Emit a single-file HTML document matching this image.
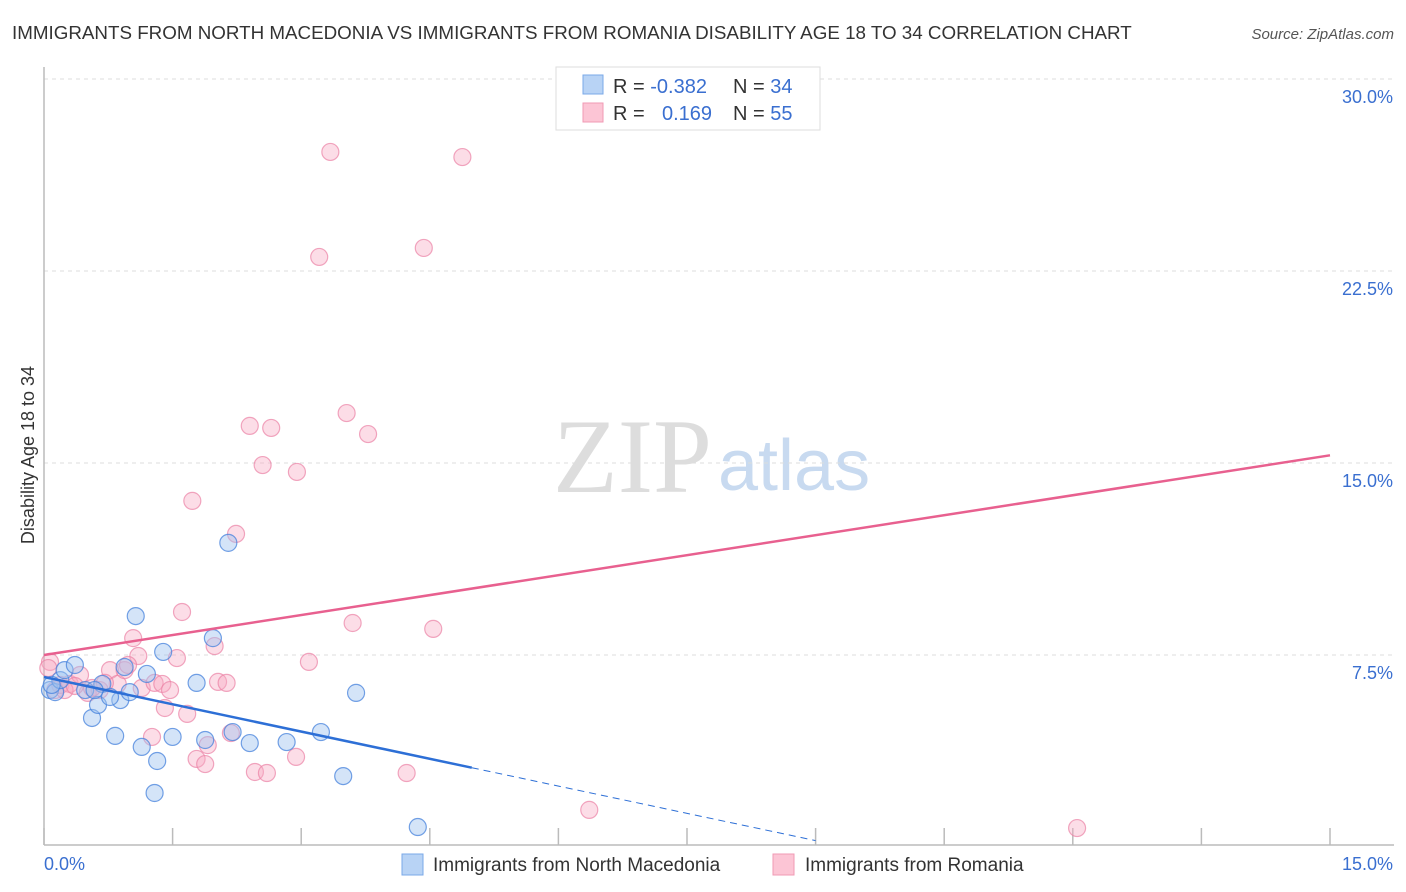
<!DOCTYPE html>
<html><head><meta charset="utf-8"><style>
body{margin:0;background:#fff;font-family:"Liberation Sans",sans-serif;}
svg{display:block}
</style></head><body>
<svg id="chart" width="1406" height="892" xmlns="http://www.w3.org/2000/svg">
<text x="12" y="39" font-size="18.8" fill="#333">IMMIGRANTS FROM NORTH MACEDONIA VS IMMIGRANTS FROM ROMANIA DISABILITY AGE 18 TO 34 CORRELATION CHART</text>
<text x="1394" y="39" font-size="15" fill="#555" font-style="italic" text-anchor="end">Source: ZipAtlas.com</text>
<text x="553" y="492" font-size="106" font-family="Liberation Serif,serif" fill="#ddd">ZIP</text>
<text x="718" y="490" font-size="72" fill="#c8daf0">atlas</text>
<text transform="translate(34,455) rotate(-90)" font-size="18" fill="#333" text-anchor="middle">Disability Age 18 to 34</text>
<g id="grid"></g><g id="marks"></g>
<g>
<rect x="556" y="67" width="264" height="63" fill="#fff" stroke="#ddd"/>
<rect x="583" y="75" width="20" height="19" fill="#b8d3f5" stroke="#7aa8e8"/>
<rect x="583" y="103" width="20" height="19" fill="#fcc5d5" stroke="#f09ab4"/>
<text x="613" y="93" font-size="20" fill="#333">R = <tspan fill="#3a6fd0">-0.382</tspan></text>
<text x="733" y="93" font-size="20" fill="#333">N = <tspan fill="#3a6fd0">34</tspan></text>
<text x="613" y="120" font-size="20" fill="#333">R = <tspan fill="#3a6fd0" x="662">0.169</tspan></text>
<text x="733" y="120" font-size="20" fill="#333">N = <tspan fill="#3a6fd0">55</tspan></text>
</g>
<g>
<rect x="402" y="854" width="21" height="21" fill="#b8d3f5" stroke="#7aa8e8"/>
<text x="433" y="871" font-size="19" fill="#333">Immigrants from North Macedonia</text>
<rect x="773" y="854" width="21" height="21" fill="#fcc5d5" stroke="#f09ab4"/>
<text x="805" y="871" font-size="19" fill="#333">Immigrants from Romania</text>
</g>
</svg>
<script>
const yTicks=[7.5,15,22.5,30];
const yTickLabels=["7.5%","15.0%","22.5%","30.0%"];
const xTicks=[0,1.5,3,4.5,6,7.5,9,10.5,12,13.5,15];
const blueX=[0.07,0.13,0.19,0.24,0.36,0.48,0.56,0.63,0.68,0.83,0.89,0.94,1.00,1.07,1.14,1.20,1.32,1.29,1.39,1.50,1.78,1.88,1.97,2.15,2.20,2.40,2.83,3.23,3.49,3.64,4.36,0.59,0.77,0.09];
const blueY=[6.13,6.05,6.52,6.91,7.11,6.13,5.04,5.55,6.37,4.34,5.74,7.03,6.05,9.02,3.91,6.76,3.36,2.11,7.62,4.30,6.41,4.18,8.16,11.88,4.49,4.06,4.10,4.49,2.77,6.02,0.78,6.13,5.86,6.33];
const pinkX=[0.07,0.13,0.19,0.30,0.42,0.51,0.65,0.77,0.86,0.94,1.04,1.10,1.14,1.26,1.29,1.38,1.41,1.47,1.55,1.61,1.67,1.73,1.78,1.88,1.91,1.99,2.03,2.13,2.18,2.24,2.40,2.46,2.55,2.60,2.65,2.94,2.95,3.09,3.21,3.34,3.60,3.53,3.78,4.23,4.43,4.54,4.88,6.36,12.05,0.05,0.24,0.36,0.56,0.98,0.71];
const pinkY=[7.23,6.13,6.33,6.37,6.72,6.02,6.13,6.91,6.37,6.91,8.16,7.46,6.21,4.30,6.41,6.37,5.43,6.13,7.38,9.18,5.20,13.52,3.44,3.24,3.98,7.85,6.45,6.41,4.45,12.23,16.45,2.93,14.92,2.89,16.37,3.52,14.65,7.23,23.05,27.15,8.75,16.95,16.13,2.89,23.40,8.52,26.95,1.45,0.74,6.99,6.13,6.29,6.21,7.11,6.41];
const blueTrend=[6.64,-0.71];
const pinkTrend=[7.5,0.52];
const NS="http://www.w3.org/2000/svg";
const X=v=>44+v/15*1286, Y=v=>847-v/7.5*192;
function mk(tag,attrs,parent){const e=document.createElementNS(NS,tag);for(const k in attrs)e.setAttribute(k,attrs[k]);parent.appendChild(e);return e;}
const grid=document.getElementById('grid'),marks=document.getElementById('marks');
yTicks.forEach((t,i)=>{
 const l=mk('line',{x1:44,x2:1394,y1:Y(t),y2:Y(t),stroke:'#ddd','stroke-dasharray':'4,4'},grid);
 
 
 const tx=mk('text',{x:1393,y:Y(t)+24,'font-size':18,fill:'#3a6fd0','text-anchor':'end'},grid);
 tx.textContent=yTickLabels[i];
 
 
});
const ax=mk('line',{x1:44,x2:1394,y1:845,y2:845,stroke:'#bbb','stroke-width':1.5},grid);


const ay=mk('line',{x1:44,x2:44,y1:67,y2:845,stroke:'#bbb','stroke-width':1.5},grid);


xTicks.forEach(t=>{const l=mk('line',{x1:X(t),x2:X(t),y1:828,y2:845,stroke:'#bbb','stroke-width':1.5},grid);
 
 });
const xl0=mk('text',{x:44,y:870,'font-size':18,fill:'#3a6fd0'},grid);xl0.textContent="0.0%";


const xl1=mk('text',{x:1393,y:870,'font-size':18,fill:'#3a6fd0','text-anchor':'end'},grid);xl1.textContent="15.0%";


pinkX.forEach((x,i)=>{const c=mk('circle',{cx:X(x),cy:Y(pinkY[i]),r:8.5,fill:'rgba(248,170,195,0.4)',stroke:'rgba(235,130,165,0.7)','stroke-width':1.2},marks);
 
 });
blueX.forEach((x,i)=>{const c=mk('circle',{cx:X(x),cy:Y(blueY[i]),r:8.5,fill:'rgba(160,195,240,0.45)',stroke:'rgba(70,130,220,0.75)','stroke-width':1.2},marks);
 
 });
const pt=mk('line',{x1:X(0),y1:Y(pinkTrend[0]),x2:X(15),y2:Y(pinkTrend[0]+15*pinkTrend[1]),stroke:'#e8608f','stroke-width':2.5},marks);


const bt=mk('line',{x1:X(0),y1:Y(blueTrend[0]),x2:X(4.99),y2:Y(blueTrend[0]+4.99*blueTrend[1]),stroke:'#2d6fd6','stroke-width':2.5},marks);


const bd=mk('line',{x1:X(4.99),y1:Y(blueTrend[0]+4.99*blueTrend[1]),x2:X(9),y2:Y(blueTrend[0]+9*blueTrend[1]),stroke:'#2d6fd6','stroke-width':1,'stroke-dasharray':'7,5'},marks);


</script>
</body></html>
